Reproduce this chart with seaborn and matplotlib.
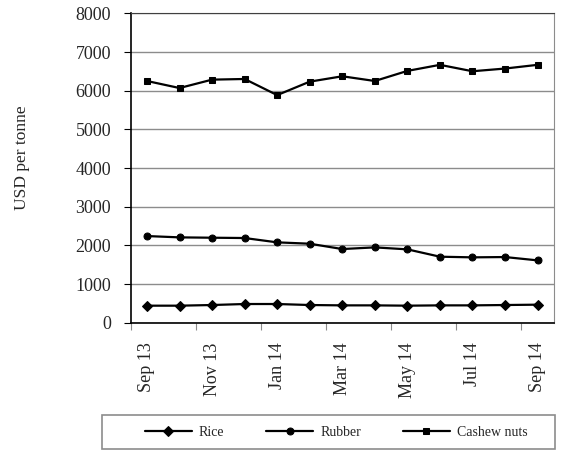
import pandas as pd
import matplotlib.pyplot as plt
import matplotlib.ticker as mticker
from matplotlib.patches import Rectangle
import seaborn as sns

# Monthly prices, USD per tonne
months = ['Sep 13', 'Oct 13', 'Nov 13', 'Dec 13', 'Jan 14', 'Feb 14', 'Mar 14',
          'Apr 14', 'May 14', 'Jun 14', 'Jul 14', 'Aug 14', 'Sep 14']
rice = [440, 440, 457, 483, 483, 457, 448, 448, 440, 448, 448, 457, 466]
rubber = [2241, 2207, 2198, 2190, 2078, 2043, 1905, 1948, 1897, 1707, 1690, 1698, 1612]
cashew = [6252, 6070, 6287, 6304, 5887, 6235, 6374, 6252, 6513, 6670, 6504, 6574, 6670]

series = {'Rice': (rice, 'D', 5.5), 'Rubber': (rubber, 'o', 5), 'Cashew nuts': (cashew, 's', 4.2)}

sns.set_style('white')
plt.rcParams['font.family'] = ['Liberation Serif', 'DejaVu Serif']

fig = plt.figure(figsize=(5.64, 4.55), dpi=100)
ax = fig.add_axes([0.2317, 0.2908, 0.7503, 0.6797])

x = list(range(len(months)))
for name, (vals, mk, ms) in series.items():
    df = pd.DataFrame({'idx': x, 'price': vals})
    sns.lineplot(data=df, x='idx', y='price', ax=ax, color='black', lw=1.6,
                 marker=mk, markersize=ms, markeredgecolor='black', label=name)

ax.set_xlim(-0.5, len(months) - 0.5)
ax.set_ylim(0, 8000)
ax.set_yticks(range(0, 8001, 1000))
ax.yaxis.grid(True, color='#8c8c8c', lw=1)
ax.set_axisbelow(True)

# tick marks between categories, labels on every second month
ax.xaxis.set_major_locator(mticker.FixedLocator([i - 0.5 for i in range(0, 13, 2)]))
ax.xaxis.set_major_formatter(mticker.NullFormatter())
ax.xaxis.set_minor_locator(mticker.FixedLocator(list(range(0, 13, 2))))
ax.xaxis.set_minor_formatter(mticker.FixedFormatter(months[::2]))
ax.tick_params(axis='x', which='major', direction='out', length=5, color='#8c8c8c', bottom=True)
ax.tick_params(axis='x', which='minor', length=0, pad=14, labelsize=13, labelrotation=90, bottom=True)
ax.tick_params(axis='y', direction='out', length=5, color='black', left=True, pad=9, labelsize=13)
ax.set_xlabel('')
ax.set_ylabel('')

for s in ['left', 'bottom']:
    ax.spines[s].set_color('black')
    ax.spines[s].set_linewidth(1.2)
ax.spines['top'].set_color('#404040')
ax.spines['right'].set_color('#8c8c8c')

fig.text(22 / 564, 1 - 157.5 / 455, 'USD per tonne', rotation=90, ha='center', va='center', fontsize=12.5)

# legend box
fig.patches.append(Rectangle((102 / 564, 1 - 449 / 455), 453 / 564, 34 / 455,
                             transform=fig.transFigure, fill=False,
                             edgecolor='#8c8c8c', lw=1.2))
handles, labels = ax.get_legend_handles_labels()
ax.get_legend().remove()
fig.legend(handles, labels, loc='center', ncol=3, frameon=False,
           bbox_to_anchor=(336 / 564, 1 - 432 / 455), fontsize=10,
           handlelength=3.4, handletextpad=0.5, columnspacing=3.0)

fig.savefig('out.png', dpi=100)
